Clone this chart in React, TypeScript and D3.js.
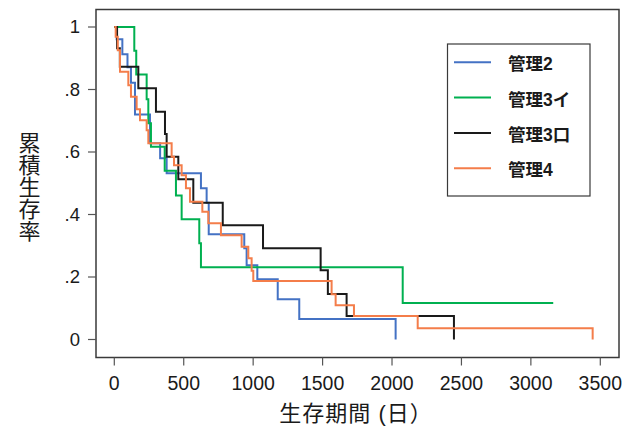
import React from 'react'
import * as d3 from 'd3'

// Kaplan-Meier step curves (days, cumulative survival)
const seriesNames = ['管理2', '管理3イ', '管理3口', '管理4']
const seriesColors = ['#4472C4', '#00B050', '#1A1A1A', '#F47D4A']

const blueTimes = [0, 17, 58, 95, 120, 149, 257, 330, 377, 624, 665, 680, 936, 953, 1030, 1177, 1332, 2026]
const blueSurv = [1, 0.961, 0.913, 0.871, 0.822, 0.72, 0.628, 0.58, 0.532, 0.484, 0.438, 0.337, 0.292, 0.238, 0.193, 0.129, 0.066, 0]

const greenTimes = [0, 144, 158, 233, 245, 264, 363, 444, 485, 612, 624, 2077, 3161]
const greenSurv = [1, 0.924, 0.848, 0.769, 0.692, 0.617, 0.54, 0.461, 0.385, 0.308, 0.231, 0.117, 0.117]

const blackTimes = [0, 20, 40, 173, 300, 365, 377, 461, 569, 781, 1071, 1486, 1538, 1673, 2446]
const blackSurv = [1, 0.932, 0.873, 0.804, 0.729, 0.658, 0.585, 0.513, 0.438, 0.366, 0.292, 0.222, 0.146, 0.075, 0]

const orangeTimes = [0, 10, 25, 41, 101, 120, 161, 185, 233, 245, 413, 430, 485, 516, 545, 634, 677, 768, 917, 965, 989, 1001, 1565, 1594, 1726, 2185, 3445]
const orangeSurv = [1, 0.969, 0.926, 0.857, 0.814, 0.777, 0.737, 0.702, 0.67, 0.628, 0.585, 0.558, 0.526, 0.484, 0.441, 0.409, 0.372, 0.334, 0.297, 0.26, 0.22, 0.187, 0.145, 0.11, 0.075, 0.036, 0]

const xTicks = [0, 500, 1000, 1500, 2000, 2500, 3000, 3500]
const yTicks = [0, 0.2, 0.4, 0.6, 0.8, 1]
const yTickLabels = ['0', '.2', '.4', '.6', '.8', '1']

const W = 634
const H = 435
const frame = { left: 96, right: 619, top: 9.5, bottom: 357.5 }
const latin = "'Liberation Sans', Arial, sans-serif"
const cjk = "'Liberation Sans', 'Noto Sans CJK JP', sans-serif"

export default function App() {
  const x = d3.scaleLinear().domain([0, 3500]).range([114.3, 600.3])
  const y = d3.scaleLinear().domain([0, 1]).range([339.5, 27])

  const series = [
    { times: blueTimes, surv: blueSurv },
    { times: greenTimes, surv: greenSurv },
    { times: blackTimes, surv: blackSurv },
    { times: orangeTimes, surv: orangeSurv },
  ]

  const line = d3.line<[number, number]>()
    .x(d => x(d[0]))
    .y(d => y(d[1]))
    .curve(d3.curveStepAfter)

  const legendTop = 62.3
  const legendStep = 35.3

  return (
    <svg width={W} height={H} style={{ position: 'absolute', left: 0, top: 0 }}>
      <rect width={W} height={H} fill="#fff" />

      {/* curves */}
      {series.map((s, i) => (
        <path
          key={i}
          d={line(s.times.map((t, j) => [t, s.surv[j]] as [number, number])) || ''}
          fill="none"
          stroke={seriesColors[i]}
          strokeWidth={2}
        />
      ))}

      {/* frame */}
      <rect
        x={frame.left}
        y={frame.top}
        width={frame.right - frame.left}
        height={frame.bottom - frame.top}
        fill="none"
        stroke="#3a3a3a"
        strokeWidth={1.5}
      />

      {/* y axis */}
      {yTicks.map((v, i) => (
        <g key={v}>
          <line x1={frame.left - 8} x2={frame.left} y1={y(v)} y2={y(v)} stroke="#555" strokeWidth={1.2} />
          <text x={80} y={y(v)} dy="0.35em" textAnchor="end" fontFamily={latin} fontSize={18.5} fill="#1a1a1a">
            {yTickLabels[i]}
          </text>
        </g>
      ))}

      {/* x axis */}
      {xTicks.map(v => (
        <g key={v}>
          <line x1={x(v)} x2={x(v)} y1={frame.bottom} y2={frame.bottom + 8} stroke="#555" strokeWidth={1.2} />
          <text x={x(v)} y={390} textAnchor="middle" fontFamily={latin} fontSize={19.5} fill="#1a1a1a">
            {v}
          </text>
        </g>
      ))}

      <text x={356} y={421} textAnchor="middle" fontFamily={cjk} fontSize={22} letterSpacing={1} fill="#1a1a1a">
        生存期間 (日）
      </text>
      <text
        x={27}
        y={187}
        textAnchor="middle"
        fontFamily={cjk}
        fontSize={22}
        fill="#1a1a1a"
        style={{ writingMode: 'vertical-rl' }}
      >
        累積生存率
      </text>

      {/* legend */}
      <rect x={447.5} y={44} width={142.5} height={152} fill="#fff" stroke="#3a3a3a" strokeWidth={1.2} />
      {seriesNames.map((name, i) => {
        const ly = legendTop + i * legendStep
        return (
          <g key={name}>
            <line x1={454} x2={491} y1={ly} y2={ly} stroke={seriesColors[i]} strokeWidth={2} />
            <text x={508} y={ly + 2} dy="0.35em" fontFamily={cjk} fontSize={17.5} fontWeight="bold" fill="#1a1a1a">
              {name}
            </text>
          </g>
        )
      })}
    </svg>
  )
}
